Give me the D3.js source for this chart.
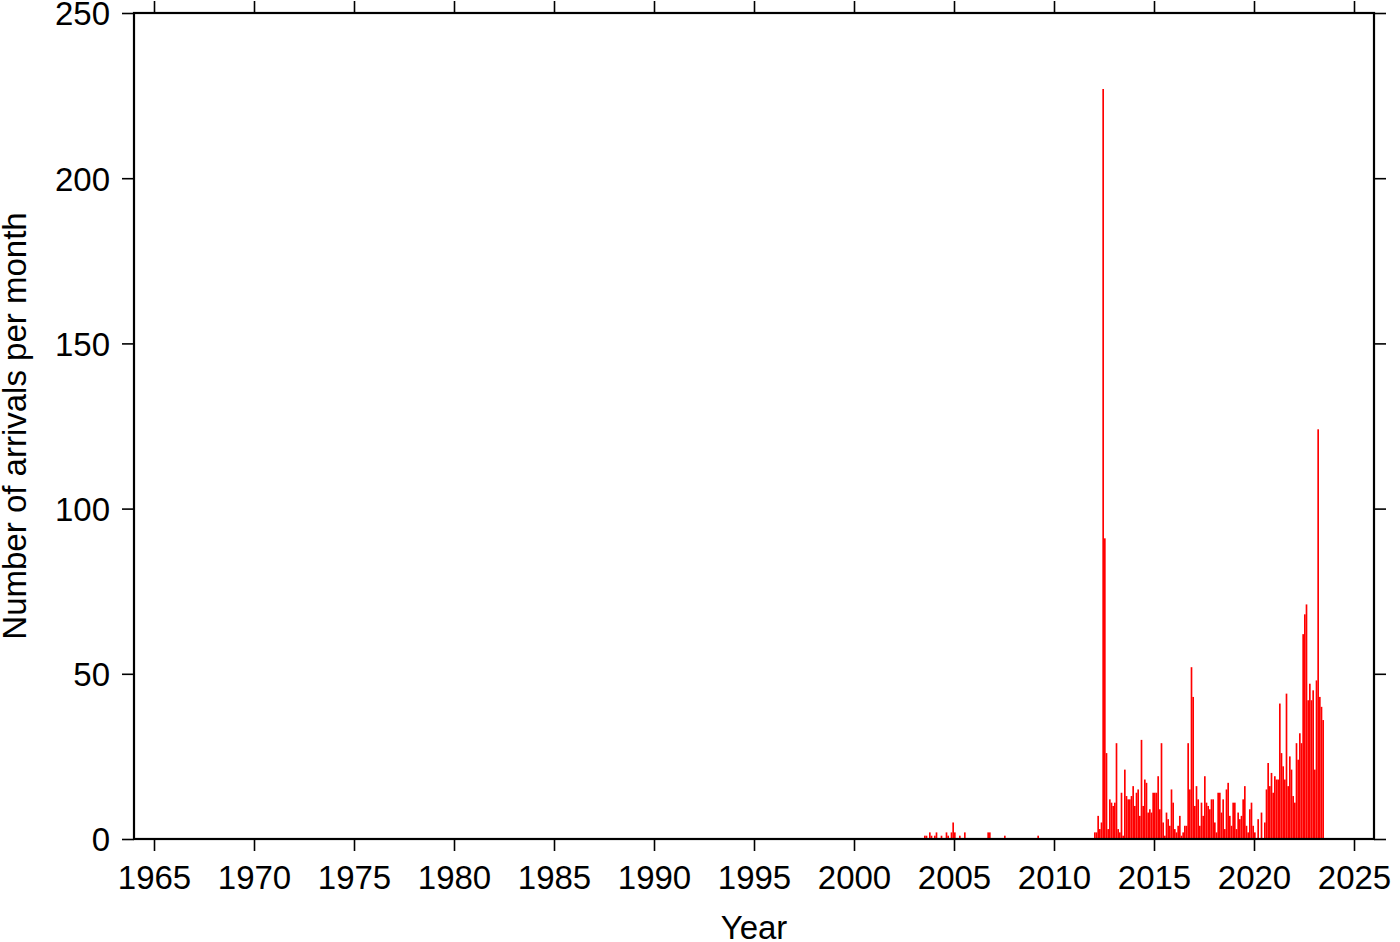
<!DOCTYPE html>
<html>
<head>
<meta charset="utf-8">
<script src="https://cdn.jsdelivr.net/npm/d3@7/dist/d3.min.js"></script>
<style>
  html, body { margin: 0; padding: 0; background: #fff; }
  svg { display: block; }
  text { font-family: "Liberation Sans", Arial, Helvetica, sans-serif; fill: #000; }
</style>
</head>
<body>
<svg id="chart" width="1400" height="942"></svg>
<script>
// ---- Data: monthly arrivals (Jan..Dec) ----
const years = [2003, 2004, 2005, 2006, 2007, 2008, 2009, 2010, 2011, 2012, 2013,
               2014, 2015, 2016, 2017, 2018, 2019, 2020, 2021, 2022, 2023];
const counts2003 = [0, 0, 0, 0, 0, 0, 1, 1, 0, 2, 1, 0];
const counts2004 = [1, 2, 0, 0, 1, 0, 0, 2, 1, 0, 2, 5];
const counts2005 = [2, 0, 0, 1, 0, 0, 2, 0, 0, 0, 0, 0];
const counts2006 = [0, 0, 0, 0, 0, 0, 0, 0, 2, 2, 0, 0];
const counts2007 = [0, 0, 0, 0, 0, 0, 1, 0, 0, 0, 0, 0];
const counts2008 = [0, 0, 0, 0, 0, 0, 0, 0, 0, 0, 0, 0];
const counts2009 = [0, 0, 1, 0, 0, 0, 0, 0, 0, 0, 0, 0];
const counts2010 = [0, 0, 0, 0, 0, 0, 0, 0, 0, 0, 0, 0];
const counts2011 = [0, 0, 0, 0, 0, 0, 0, 0, 0, 0, 0, 0];
const counts2012 = [2, 2, 7, 3, 5, 227, 91, 26, 3, 12, 11, 10];
const counts2013 = [11, 29, 3, 2, 14, 1, 21, 13, 12, 12, 13, 16];
const counts2014 = [10, 14, 15, 7, 30, 10, 18, 17, 8, 9, 8, 14];
const counts2015 = [14, 14, 19, 9, 29, 5, 1, 8, 6, 4, 15, 11];
const counts2016 = [3, 2, 4, 7, 1, 2, 4, 4, 29, 15, 52, 43];
const counts2017 = [10, 16, 12, 4, 11, 7, 19, 11, 10, 9, 12, 12];
const counts2018 = [5, 2, 14, 14, 8, 12, 3, 15, 17, 7, 4, 11];
const counts2019 = [11, 3, 8, 6, 7, 12, 16, 4, 2, 9, 11, 4];
const counts2020 = [2, 0, 6, 0, 8, 0, 5, 15, 23, 16, 20, 14];
const counts2021 = [19, 18, 18, 41, 26, 22, 18, 44, 16, 25, 21, 13];
const counts2022 = [11, 29, 24, 32, 29, 62, 68, 71, 42, 47, 42, 45];
const counts2023 = [21, 48, 124, 43, 40, 36];
const monthlyCounts = [counts2003, counts2004, counts2005, counts2006, counts2007,
  counts2008, counts2009, counts2010, counts2011, counts2012, counts2013, counts2014,
  counts2015, counts2016, counts2017, counts2018, counts2019, counts2020, counts2021,
  counts2022, counts2023];

const xTickYears = [1965, 1970, 1975, 1980, 1985, 1990, 1995, 2000, 2005, 2010, 2015, 2020, 2025];
const yTickValues = [0, 50, 100, 150, 200, 250];
const xTitle = "Year";
const yTitle = "Number of arrivals per month";

// ---- Layout ----
const svg = d3.select("#chart");
const mLeft = 134, mRight = 1374, mTop = 13, mBottom = 839;

const x = d3.scaleLinear().domain([1964, 2026]).range([mLeft, mRight]);
const y = d3.scaleLinear().domain([0, 250]).range([mBottom, mTop]);

// Build bar records
const bars = [];
years.forEach((yr, i) => {
  monthlyCounts[i].forEach((v, m) => {
    if (v > 0) bars.push({ t0: yr + m / 12, t1: yr + (m + 1) / 12, v });
  });
});

svg.append("g")
  .selectAll("rect")
  .data(bars)
  .join("rect")
  .attr("x", d => x(d.t0))
  .attr("width", d => x(d.t1) - x(d.t0))
  .attr("y", d => y(d.v))
  .attr("height", d => y(0) - y(d.v))
  .attr("fill", "#ff0000");

const fontSize = 33;

// Bottom axis
const gB = svg.append("g").attr("transform", `translate(0,${mBottom})`)
  .call(d3.axisBottom(x).tickValues(xTickYears).tickFormat(d3.format("d")).tickSize(12));
gB.select(".domain").remove();
gB.selectAll(".tick line").attr("stroke", "#000").attr("stroke-width", 1.6);
gB.selectAll(".tick text").attr("font-size", fontSize).attr("y", 50).attr("dy", 0)
  .attr("font-family", "Liberation Sans, Arial, sans-serif");

// Top axis (ticks only)
const gT = svg.append("g").attr("transform", `translate(0,${mTop})`)
  .call(d3.axisTop(x).tickValues(xTickYears).tickFormat("").tickSize(12));
gT.select(".domain").remove();
gT.selectAll(".tick line").attr("stroke", "#000").attr("stroke-width", 1.6);

// Left axis
const gL = svg.append("g").attr("transform", `translate(${mLeft},0)`)
  .call(d3.axisLeft(y).tickValues(yTickValues).tickSize(12).tickPadding(12));
gL.select(".domain").remove();
gL.selectAll(".tick line").attr("stroke", "#000").attr("stroke-width", 1.6);
gL.selectAll(".tick text").attr("font-size", fontSize).attr("dy", "0.36em")
  .attr("font-family", "Liberation Sans, Arial, sans-serif");

// Right axis (ticks only)
const gR = svg.append("g").attr("transform", `translate(${mRight},0)`)
  .call(d3.axisRight(y).tickValues(yTickValues).tickFormat("").tickSize(12));
gR.select(".domain").remove();
gR.selectAll(".tick line").attr("stroke", "#000").attr("stroke-width", 1.6);

// Frame
svg.append("rect")
  .attr("x", mLeft).attr("y", mTop)
  .attr("width", mRight - mLeft).attr("height", mBottom - mTop)
  .attr("fill", "none").attr("stroke", "#000").attr("stroke-width", 2.2);

// Titles
svg.append("text")
  .attr("x", (mLeft + mRight) / 2).attr("y", 939)
  .attr("text-anchor", "middle").attr("font-size", fontSize)
  .text(xTitle);

svg.append("text")
  .attr("transform", `translate(26,${(mTop + mBottom) / 2}) rotate(-90)`)
  .attr("text-anchor", "middle").attr("font-size", fontSize)
  .text(yTitle);
</script>
</body>
</html>
